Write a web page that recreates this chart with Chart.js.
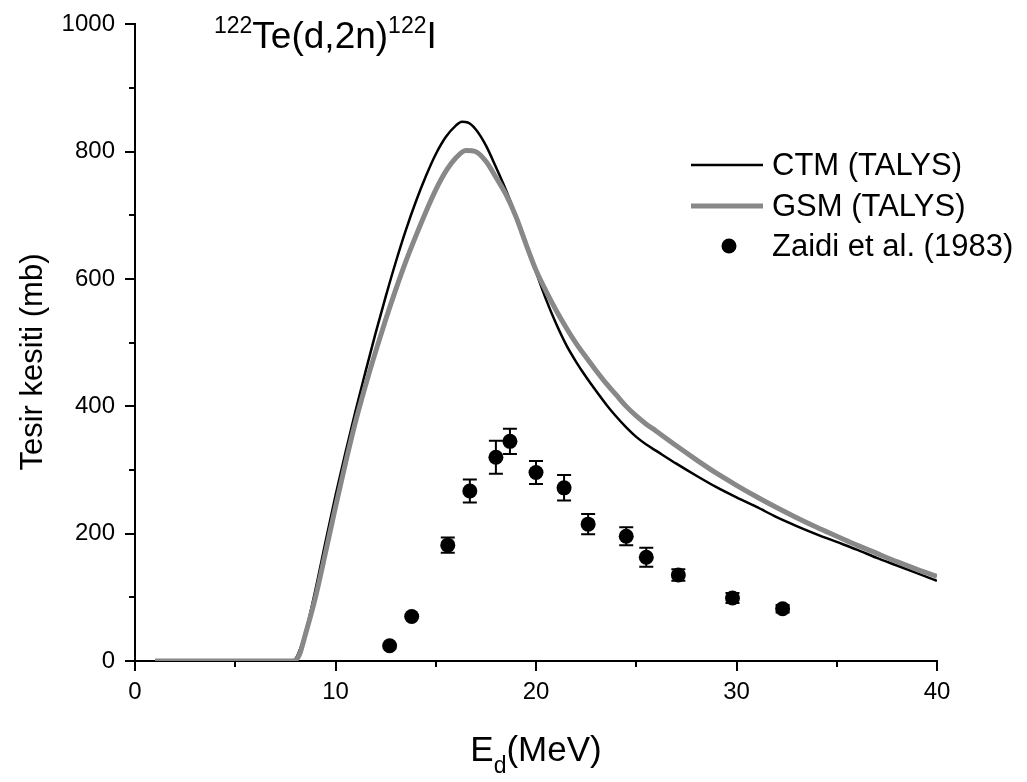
<!DOCTYPE html>
<html><head><meta charset="utf-8">
<script src="https://cdn.jsdelivr.net/npm/chart.js@4.4.1/dist/chart.umd.min.js"></script>
<style>html,body{margin:0;padding:0;background:#fff;}#wrap{width:1027px;height:782px;}</style>
</head><body><div id="wrap"><canvas id="c" width="1027" height="782"></canvas></div>
<script>
// ---- data ----
const ctmEnergy = [1,7.8,8.0,8.5,9,9.5,10,10.5,11,11.5,12,12.5,13,13.5,14,14.5,15,15.5,16,16.3,16.6,17,17.5,18,18.5,19,19.5,20,20.5,21,21.5,22,22.5,23,23.5,24,24.5,25,25.5,26,27,28,29,30,31,32,33,34,35,36,37,38,39,40];
const ctmSigma  = [0,0,3,45,112,187,260,328,393,455,515,572,626,676,721,761,796,823,841,847,846,835,810,776,740,700,656,611,568,530,497,470,446,424,403,384,367,352,340,330,310,291,273,257,242,226,212,199,187,175,162,150,138,126];
const gsmEnergy = [1,7.9,8.2,8.5,9,9.5,10,10.5,11,11.5,12,12.5,13,13.5,14,14.5,15,15.5,16,16.5,17,17.5,18,18.5,19,19.5,20,20.5,21,21.5,22,22.5,23,23.5,24,24.5,25,25.5,26,27,28,29,30,31,32,33,34,35,36,37,38,39,40];
const gsmSigma  = [0,0,10,42,100,170,242,311,376,433,486,536,583,627,667,705,740,769,790,802,800,785,760,733,698,655,614,581,551,524,499,477,456,436,418,400,385,372,361,338,316,295,276,258,241,225,210,196,182,169,156,144,133];
const expEnergy = [12.7,13.8,15.6,16.7,18.0,18.7,20.0,21.4,22.6,24.5,25.5,27.1,29.8,32.3];
const expSigma  = [24,70,182,267,320,345,296,272,215,196,163,135,99,82];
const expError  = [0,0,12,18,26,20,18,20,16,14,15,9,8,6];
const xTickValues = [0,10,20,30,40];
const yTickValues = [0,200,400,600,800,1000];
const xMinorTicks = [5,15,25,35];
const yMinorTicks = [100,300,500,700,900];
const seriesLabels = ['CTM (TALYS)','GSM (TALYS)','Zaidi et al. (1983)'];
const yAxisTitle = 'Tesir kesiti (mb)';

const FONT = "'Liberation Sans', Arial, sans-serif";
Chart.defaults.font.family = FONT;
Chart.defaults.color = '#000';

const toXY = (xs, ys) => xs.map((x,i)=>({x, y: ys[i]}));

const errorBars = {
  id:'errorBars',
  beforeDatasetsDraw(chart){
    const {ctx, scales:{x,y}} = chart;
    ctx.save(); ctx.strokeStyle='#000'; ctx.lineWidth=2;
    expEnergy.forEach((e,i)=>{
      const err = expError[i]; if(!err) return;
      const px = x.getPixelForValue(e);
      const top = y.getPixelForValue(expSigma[i]+err), bot = y.getPixelForValue(expSigma[i]-err);
      ctx.beginPath();
      ctx.moveTo(px,top); ctx.lineTo(px,bot);
      ctx.moveTo(px-7,top); ctx.lineTo(px+7,top);
      ctx.moveTo(px-7,bot); ctx.lineTo(px+7,bot);
      ctx.stroke();
    });
    ctx.restore();
  }
};

const decorations = {
  id:'decorations',
  afterDraw(chart){
    const {ctx, scales:{x,y}, chartArea} = chart;
    ctx.save();
    // minor ticks
    ctx.strokeStyle='#000'; ctx.lineWidth=2;
    ctx.beginPath();
    yMinorTicks.forEach(v=>{const py=Math.round(y.getPixelForValue(v)); ctx.moveTo(chartArea.left-6,py); ctx.lineTo(chartArea.left,py);});
    xMinorTicks.forEach(v=>{const px=Math.round(x.getPixelForValue(v)); ctx.moveTo(px,chartArea.bottom); ctx.lineTo(px,chartArea.bottom+6);});
    ctx.stroke();
    ctx.fillStyle='#000';
    ctx.textBaseline='alphabetic'; ctx.textAlign='left';
    // plot title with superscripts
    let tx = 214;
    const sup = '23px '+FONT, main = '37px '+FONT;
    const parts = [['122',sup,33],['Te(d,2n)',main,48],['122',sup,33],['I',main,48]];
    parts.forEach(([t,f,b])=>{ctx.font=f; ctx.fillText(t,tx,b); tx+=ctx.measureText(t).width;});
    // x axis title E_d(MeV)
    const xParts = [['E','35px '+FONT,761],['d','23px '+FONT,773],['(MeV)','35px '+FONT,761]];
    let w=0; xParts.forEach(([t,f])=>{ctx.font=f; w+=ctx.measureText(t).width;});
    let xx = (chartArea.left+chartArea.right)/2 - w/2;
    xParts.forEach(([t,f,b])=>{ctx.font=f; ctx.fillText(t,xx,b); xx+=ctx.measureText(t).width;});
    // y axis title
    ctx.save();
    ctx.translate(33, 362); ctx.rotate(-Math.PI/2);
    ctx.font='31px '+FONT; ctx.textAlign='center'; ctx.textBaseline='middle';
    ctx.fillText(yAxisTitle,0,0);
    ctx.restore();
    // legend
    const ds = chart.data.datasets;
    const rows = [165,206,246];
    ctx.font = '31px '+FONT; ctx.textBaseline='middle'; ctx.textAlign='left';
    ds.forEach((d,i)=>{
      const ry = rows[i];
      if(d.showLine){
        ctx.strokeStyle=d.borderColor; ctx.lineWidth=d.borderWidth;
        ctx.beginPath(); ctx.moveTo(691,ry); ctx.lineTo(763,ry); ctx.stroke();
      } else {
        ctx.fillStyle=d.backgroundColor; ctx.beginPath(); ctx.arc(729,ry,d.pointRadius,0,Math.PI*2); ctx.fill();
      }
      ctx.fillStyle='#000';
      ctx.fillText(d.label, 772, ry+1);
    });
    ctx.restore();
  }
};

new Chart(document.getElementById('c'), {
  type:'scatter',
  data:{
    datasets:[
      {label:seriesLabels[0], data:toXY(ctmEnergy,ctmSigma), showLine:true, borderColor:'#000', borderWidth:2.5, pointRadius:0, cubicInterpolationMode:'monotone', order:2},
      {label:seriesLabels[1], data:toXY(gsmEnergy,gsmSigma), showLine:true, borderColor:'#888888', borderWidth:5, pointRadius:0, cubicInterpolationMode:'monotone', order:1},
      {label:seriesLabels[2], data:toXY(expEnergy,expSigma), showLine:false, backgroundColor:'#000', borderColor:'#000', borderWidth:0, pointRadius:7.5, order:0}
    ]
  },
  options:{
    responsive:false, animation:false, devicePixelRatio:1,
    layout:{padding:{left:0,top:14,right:90,bottom:0}},
    plugins:{legend:{display:false}, tooltip:{enabled:false}},
    scales:{
      x:{type:'linear', min:0, max:40,
        afterBuildTicks:s=>{s.ticks = xTickValues.map(v=>({value:v}));},
        afterFit:s=>{s.height=121;},
        grid:{drawOnChartArea:false, drawTicks:true, tickLength:10, color:'#000', lineWidth:2},
        border:{display:true, color:'#000', width:2},
        ticks:{font:{size:24}, padding:7, maxRotation:0, color:'#000', callback:v=>String(v)}
      },
      y:{type:'linear', min:0, max:1000,
        afterBuildTicks:s=>{s.ticks = yTickValues.map(v=>({value:v}));},
        afterFit:s=>{s.width=135;},
        grid:{drawOnChartArea:false, drawTicks:true, tickLength:10, color:'#000', lineWidth:2},
        border:{display:true, color:'#000', width:2},
        ticks:{font:{size:24}, padding:10, color:'#000', callback:v=>String(v)}
      }
    }
  },
  plugins:[errorBars, decorations]
});
</script></body></html>
